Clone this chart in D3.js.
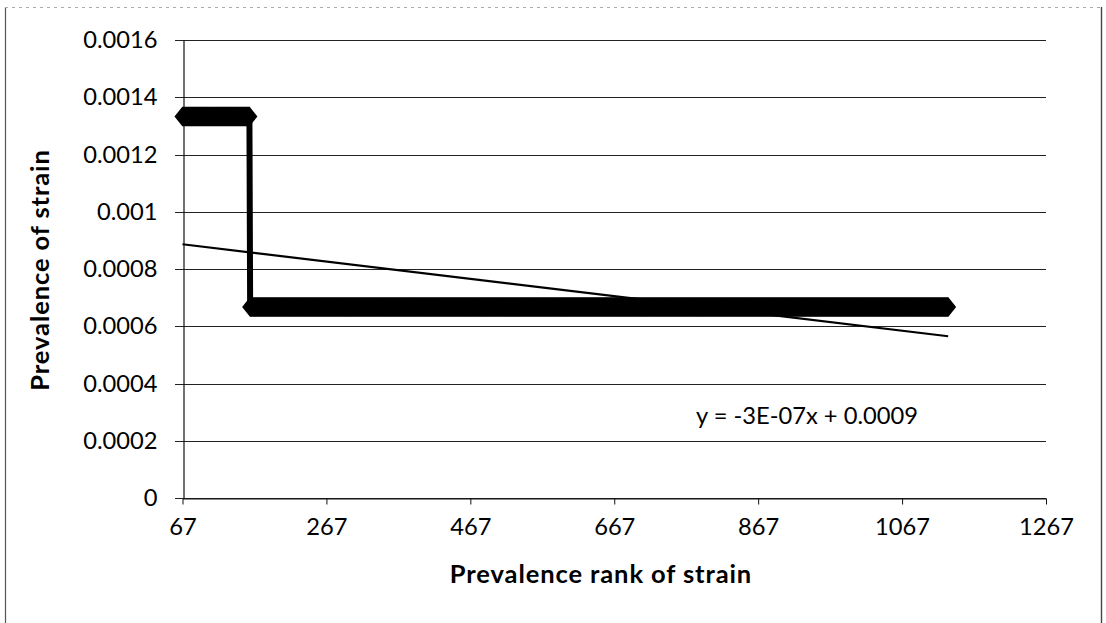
<!DOCTYPE html>
<html>
<head>
<meta charset="utf-8">
<script src="https://cdn.jsdelivr.net/npm/d3@7"></script>
<style>
  html, body { margin: 0; padding: 0; background: #fff; }
  svg { display: block; }
  text { font-family: Lato, Calibri, "Open Sans", sans-serif; fill: #000; }
</style>
</head>
<body>
<svg id="chart" width="1106" height="623"></svg>
<script>
// Strain prevalence by rank, stored as runs of consecutive ranks sharing one prevalence
const runRankFirst = [67, 161];
const runRankLast = [160, 1131];
const runPrevalence = [0.001333, 0.000667];

// Axis ticks
const xTicks = [67, 267, 467, 667, 867, 1067, 1267];
const yTicks = [0, 0.0002, 0.0004, 0.0006, 0.0008, 0.001, 0.0012, 0.0014, 0.0016];

const xTitle = "Prevalence rank of strain";
const yTitle = "Prevalence of strain";

// One point per rank
const points = [];
runRankFirst.forEach((first, i) => {
  d3.range(first, runRankLast[i] + 1).forEach(r => points.push({ x: r, y: runPrevalence[i] }));
});

// Least-squares linear trend of the points
const mx = d3.mean(points, d => d.x);
const my = d3.mean(points, d => d.y);
const sxy = d3.sum(points, d => (d.x - mx) * (d.y - my));
const sxx = d3.sum(points, d => (d.x - mx) * (d.x - mx));
const slope = sxy / sxx;
const intercept = my - slope * mx;

function excelSci(v) {
  const [m, e] = v.toExponential(0).split("e");
  const ev = parseInt(e, 10);
  const sign = ev < 0 ? "-" : "+";
  return m + "E" + sign + String(Math.abs(ev)).padStart(2, "0");
}
const eqLabel = "y = " + excelSci(slope) + "x " + (intercept < 0 ? "- " : "+ ") +
  (+Math.abs(intercept).toPrecision(1)).toString();

const svg = d3.select("#chart");
const labelSize = 23.7;
const titleSize = 25.5;

// Chart frame
svg.append("line").attr("x1", 5.5).attr("x2", 5.5).attr("y1", 7).attr("y2", 623)
  .attr("stroke", "#555").attr("stroke-width", 1.2);
svg.append("line").attr("x1", 1101.5).attr("x2", 1101.5).attr("y1", 7).attr("y2", 623)
  .attr("stroke", "#444").attr("stroke-width", 1.4);
svg.append("line").attr("x1", 5).attr("x2", 1101).attr("y1", 7.5).attr("y2", 7.5)
  .attr("stroke", "#aaa").attr("stroke-width", 1).attr("stroke-dasharray", "3,4");

const x = d3.scaleLinear().domain([67, 1267]).range([182.5, 1046]);
const y = d3.scaleLinear().domain([0, 0.0016]).range([498, 40]);

// Horizontal gridlines with outward ticks
svg.append("g").selectAll("line").data(yTicks).join("line")
  .attr("x1", 175).attr("x2", 1046)
  .attr("y1", d => Math.round(y(d)) + 0.5).attr("y2", d => Math.round(y(d)) + 0.5)
  .attr("stroke", "#222").attr("stroke-width", 1);

// Y axis
const yAxis = d3.axisLeft(y).tickValues(yTicks).tickSize(0).tickPadding(26)
  .tickFormat(d => d === 0 ? "0" : String(+d.toPrecision(2)));
svg.append("g").attr("transform", "translate(" + Math.round(x(67)) + ".5,0)")
  .call(yAxis)
  .call(g => g.select(".domain").attr("stroke", "#111").attr("stroke-width", 1.2))
  .call(g => g.selectAll("text").attr("font-size", labelSize).attr("font-family", "Lato").attr("fill", "#000"));

// X axis
const xAxis = d3.axisBottom(x).tickValues(xTicks).tickSize(6).tickSizeOuter(0).tickPadding(14)
  .tickFormat(d3.format("d"));
svg.append("g").attr("transform", "translate(0," + Math.round(y(0)) + ".5)")
  .call(xAxis)
  .call(g => g.select(".domain").attr("stroke", "#111").attr("stroke-width", 1.2))
  .call(g => g.selectAll(".tick line").attr("stroke", "#111"))
  .call(g => g.selectAll("text").attr("font-size", labelSize).attr("font-family", "Lato").attr("fill", "#000"));

// Series line
const line = d3.line().x(d => x(d.x)).y(d => y(d.y));
svg.append("path").datum(points).attr("d", line)
  .attr("fill", "none").attr("stroke", "#000").attr("stroke-width", 6);

// Diamond markers
const hw = 8, hh = 10;
svg.append("g").selectAll("path").data(points).join("path")
  .attr("d", d => {
    const cx = x(d.x), cy = y(d.y);
    return `M${cx - hw},${cy}L${cx},${cy - hh}L${cx + hw},${cy}L${cx},${cy + hh}Z`;
  })
  .attr("fill", "#000");

// Linear trendline over the data range
const xMin = d3.min(points, d => d.x), xMax = d3.max(points, d => d.x);
svg.append("line")
  .attr("x1", x(xMin)).attr("y1", y(slope * xMin + intercept))
  .attr("x2", x(xMax)).attr("y2", y(slope * xMax + intercept))
  .attr("stroke", "#000").attr("stroke-width", 2.2);

svg.append("text").attr("x", 696).attr("y", 424)
  .attr("font-size", labelSize).text(eqLabel);

// Axis titles
svg.append("text").attr("x", 601).attr("y", 583).attr("text-anchor", "middle")
  .attr("font-size", titleSize).attr("font-weight", "bold").attr("letter-spacing", 0.9).text(xTitle);
svg.append("text").attr("transform", "translate(49,270) rotate(-90)")
  .attr("text-anchor", "middle").attr("font-size", titleSize).attr("font-weight", "bold")
  .attr("letter-spacing", 0.9).text(yTitle);
</script>
</body>
</html>
